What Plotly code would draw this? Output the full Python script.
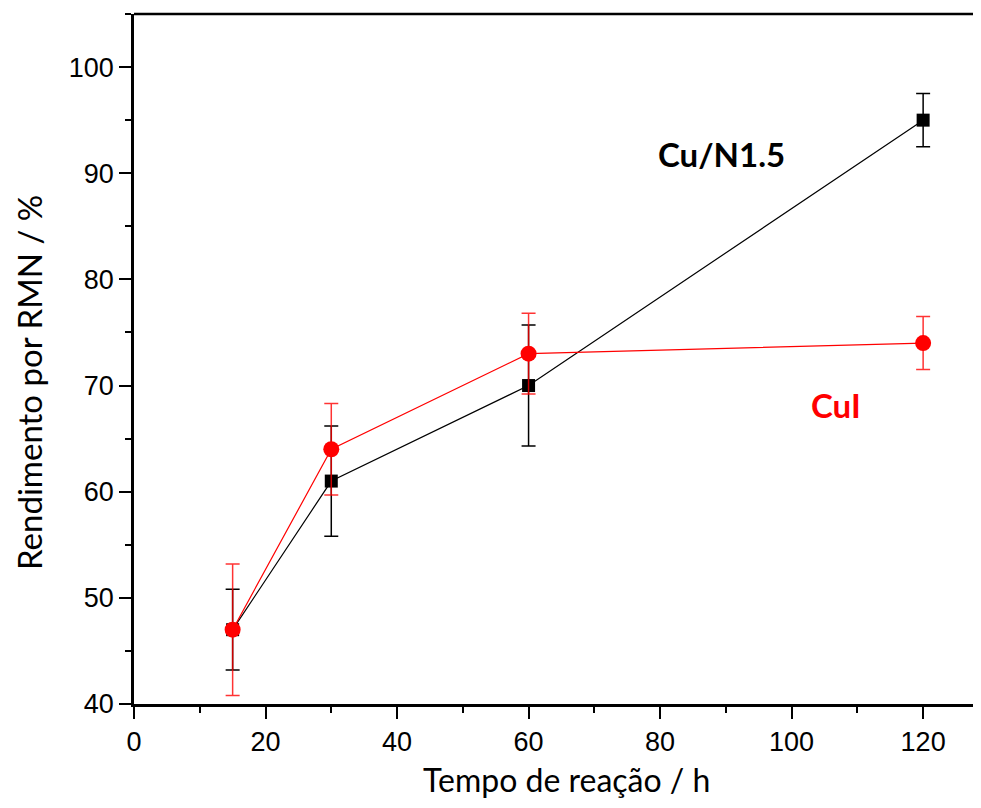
import plotly.graph_objects as go

time_h = [15, 30, 60, 120]
cu_n15 = [47, 61, 70, 95]
cu_n15_err = [3.8, 5.2, 5.7, 2.5]
cui = [47, 64, 73, 74]
cui_err = [6.2, 4.3, 3.8, 2.5]

x_title = "Tempo de reação / h"
y_title = "Rendimento por RMN / %"
label_cun = "Cu/N1.5"
label_cui = "CuI"

OFF = 8  # page body margin
W, H = 981 - OFF, 808 - OFF
L, R, T, B = 134 - OFF, 981 - OFF, 14 - OFF, 704 - OFF

def px(x):
    return (x - OFF - L) / (R - L)

def py(y):
    return (B - (y - OFF)) / (B - T)

fig = go.Figure()
fig.add_trace(go.Scatter(
    x=time_h, y=cu_n15, mode="lines+markers", name=label_cun,
    line=dict(color="black", width=1.2),
    marker=dict(symbol="square", size=13, color="black"),
    error_y=dict(type="data", array=cu_n15_err, visible=True, color="black", thickness=1.5, width=7),
))
fig.add_trace(go.Scatter(
    x=time_h, y=cui, mode="lines+markers", name=label_cui,
    line=dict(color="#ff0000", width=1.2),
    marker=dict(symbol="circle", size=16, color="#ff0000"),
    error_y=dict(type="data", array=cui_err, visible=True, color="rgba(255,0,0,0.8)", thickness=1.5, width=7),
))

ann = dict(xref="paper", yref="paper", showarrow=False, xanchor="center", yanchor="middle")
fig.add_annotation(**ann, x=px(721), y=py(154), text="<b>" + label_cun + "</b>",
                   font=dict(family="Lato, sans-serif", size=33, color="black"))
fig.add_annotation(**ann, x=px(836), y=py(405), text="<b>" + label_cui + "</b>",
                   font=dict(family="Lato, sans-serif", size=33, color="#ff0000"))
fig.add_annotation(xref="paper", yref="paper", showarrow=False, xanchor="center", yanchor="bottom",
                   x=px(566), y=py(800), text=x_title, borderpad=0,
                   font=dict(family="Lato, sans-serif", size=32, color="black"))
fig.add_annotation(**ann, x=px(29), y=py(383), text=y_title, textangle=-90,
                   font=dict(family="Lato, sans-serif", size=33, color="black"))

fig.add_shape(type="line", xref="paper", yref="paper", x0=0, x1=1, y0=1, y1=1,
              line=dict(color="black", width=2.5))

fig.update_layout(
    width=W, height=H,
    margin=dict(l=L, r=W - R, t=T, b=H - B),
    plot_bgcolor="white", paper_bgcolor="white",
    showlegend=False,
    font=dict(family="Liberation Sans, Arial, sans-serif", size=27, color="black"),
    xaxis=dict(
        range=[0, 128.8], tickmode="linear", tick0=0, dtick=20,
        ticks="outside", ticklen=12, tickwidth=2, tickcolor="black",
        minor=dict(ticks="outside", ticklen=6, tickwidth=2, tickcolor="black", dtick=10),
        showline=True, linecolor="black", linewidth=2.5, showgrid=False, zeroline=False,
        automargin=False,
    ),
    yaxis=dict(
        range=[40, 105], tickmode="linear", tick0=40, dtick=10,
        ticks="outside", ticklen=12, tickwidth=2, tickcolor="black",
        minor=dict(ticks="outside", ticklen=6, tickwidth=2, tickcolor="black", dtick=5),
        showline=True, linecolor="black", linewidth=2.5, showgrid=False, zeroline=False,
        automargin=False,
    ),
)

fig.write_html("out.html")
